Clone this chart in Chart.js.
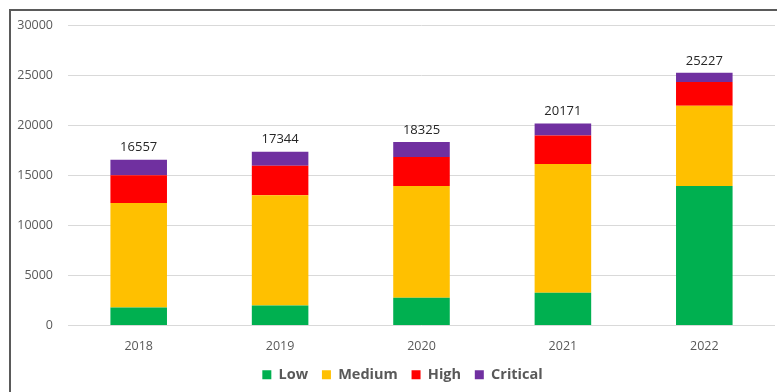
<!DOCTYPE html>
<html>
<head>
<meta charset="utf-8">
<script src="https://cdn.jsdelivr.net/npm/chart.js@4"></script>
<style>
  html, body { margin: 0; padding: 0; background: #fff; }
  #wrap { width: 777px; height: 392px; position: relative; }
</style>
</head>
<body>
<div id="wrap"><canvas id="vulnChart"></canvas></div>
<script>
// Input data
const years = ['2018', '2019', '2020', '2021', '2022'];
const lowValues = [1800, 2000, 2760, 3260, 13930];
const mediumValues = [10430, 11000, 11170, 12860, 8000];
const highValues = [2760, 2960, 2890, 2860, 2390];
const criticalValues = [1567, 1384, 1505, 1191, 907];
const totals = [16557, 17344, 18325, 20171, 25227];
const yTicks = [0, 5000, 10000, 15000, 20000, 25000, 30000];

const fontFamily = "'Open Sans', 'Liberation Sans', sans-serif";

// Dark frame on the left and top edges, like the original picture
const framePlugin = {
  id: 'frame',
  beforeDraw(chart) {
    const ctx = chart.ctx;
    ctx.save();
    ctx.fillStyle = '#5a5a5a';
    ctx.fillRect(9, 9, 2, chart.height - 9);
    ctx.fillRect(9, 9, chart.width - 9, 2);
    ctx.restore();
  },
};

// Legend sits a little right of the canvas centre in the original
const legendShiftPlugin = {
  id: 'legendShift',
  afterLayout(chart) {
    if (chart.legend) {
      chart.legend.left += 10;
      chart.legend.right += 10;
    }
  },
};

// Total value written above each stacked bar
const totalsPlugin = {
  id: 'totals',
  afterDatasetsDraw(chart) {
    const ctx = chart.ctx;
    const xScale = chart.scales.x;
    const yScale = chart.scales.y;
    ctx.save();
    ctx.font = `13px ${fontFamily}`;
    ctx.fillStyle = '#262626';
    ctx.textAlign = 'center';
    ctx.textBaseline = 'middle';
    for (let i = 0; i < totals.length; i += 1) {
      const x = xScale.getPixelForValue(i);
      const y = yScale.getPixelForValue(totals[i]);
      ctx.fillText(String(totals[i]), x, y - 12);
    }
    ctx.restore();
  },
};

drawChart('vulnChart');

function drawChart(htmlElement) {
  const ctx = document.getElementById(htmlElement).getContext('2d');
  // legend spacing: a trailing space widens the gap between items a bit
  const legendText = (label, i, n) => (i < n - 1 ? label + ' ' : label);

  new Chart(ctx, {
    type: 'bar',
    data: {
      labels: years,
      datasets: [
        { label: 'Low', data: lowValues, backgroundColor: '#00B050' },
        { label: 'Medium', data: mediumValues, backgroundColor: '#FFC000' },
        { label: 'High', data: highValues, backgroundColor: '#FF0000' },
        { label: 'Critical', data: criticalValues, backgroundColor: '#7030A0' },
      ],
    },
    options: {
      responsive: true,
      maintainAspectRatio: false,
      animation: false,
      layout: {
        padding: { left: 10, right: 2, top: 25, bottom: 0 },
      },
      datasets: {
        bar: {
          barPercentage: 0.4,
          categoryPercentage: 1,
          borderWidth: 0,
        },
      },
      plugins: {
        legend: {
          position: 'bottom',
          labels: {
            boxWidth: 9,
            boxHeight: 9,
            padding: 10,
            color: '#595959',
            font: { family: fontFamily, size: 14.5, weight: 'bold' },
            generateLabels(chart) {
              const items = Chart.defaults.plugins.legend.labels.generateLabels(chart);
              items.forEach((item, i) => {
                item.text = legendText(item.text, i, items.length);
                item.lineWidth = 0;
              });
              return items;
            },
          },
        },
        tooltip: { enabled: false },
      },
      scales: {
        x: {
          stacked: true,
          afterFit(scale) {
            scale.height = 32;
          },
          grid: { display: false, drawTicks: false },
          border: { display: false },
          ticks: {
            padding: 13,
            color: '#595959',
            font: { family: fontFamily, size: 12.5 },
          },
        },
        y: {
          stacked: true,
          min: 0,
          max: 30000,
          afterFit(scale) {
            scale.width = 58;
          },
          afterBuildTicks(scale) {
            scale.ticks = yTicks.map((v) => ({ value: v }));
          },
          grid: { color: '#d9d9d9', lineWidth: 1, drawTicks: false },
          border: { display: false },
          ticks: {
            padding: 15,
            color: '#595959',
            font: { family: fontFamily, size: 12.5 },
            callback: (value) => String(value),
          },
        },
      },
    },
    plugins: [framePlugin, legendShiftPlugin, totalsPlugin],
  });
}
</script>
</body>
</html>
